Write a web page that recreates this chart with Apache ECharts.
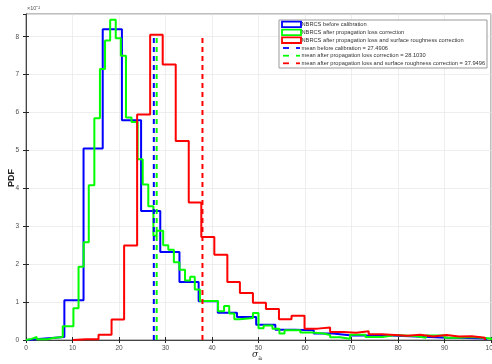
<!DOCTYPE html>
<html><head><meta charset="utf-8">
<script src="https://cdn.jsdelivr.net/npm/echarts@6/dist/echarts.min.js"></script>
<style>html,body{margin:0;padding:0;background:#fff}#c{width:492px;height:364px}</style>
</head><body><div id="c"></div>
<script>
// Blue: NBRCS before calibration (bin edges, heights in 1e-2)
const blueEdges = [0,4.125,8.25,12.375,16.5,20.625,24.75,28.875,33,37.125,41.25,45.375,49.5,53.625,57.75,61.875,66,70.125,74.25,78.375,82.5,86.625,90.75,94.875,99];
const blueHeights = [0.04,0.08,1.05,5.05,8.2,5.8,3.4,2.32,1.53,1.02,0.72,0.61,0.4,0.27,0.26,0.17,0.12,0.12,0.12,0.1,0.08,0.06,0.05,0.04];
// Green: NBRCS after propagation loss correction
const greenEdges = [0,1.2,2.3,4.6,5.8,7.9,10.2,11.3,12.4,13.5,14.7,15.9,17.0,18.1,19.3,20.4,21.5,22.7,24.0,25.1,26.3,27.4,28.1,29.5,30.6,31.8,33.0,34.2,35.3,36.3,37.4,41.3,42.6,43.7,44.8,46.0,48.8,50.0,51.1,53.0,54.5,55.6,59.0,61.5,64.0,65.4,67.5,69.7,73.0,76.6,79.5,84,86,90,93,96,100];
const greenHeights = [0.03,0.08,0.02,0.05,0.08,0.36,0.84,1.93,2.58,4.08,5.85,7.15,7.9,8.45,7.96,7.5,5.87,5.75,4.77,4.1,3.53,2.75,2.88,2.5,2.38,2.05,1.85,1.57,1.67,1.33,1.03,0.76,0.9,0.7,0.55,0.58,0.71,0.31,0.38,0.3,0.17,0.26,0.2,0.17,0.13,0.07,0.03,0.14,0.08,0.13,0.1,0.06,0.12,0.06,0.08,0.04];
// Red: NBRCS after propagation loss and surface roughness correction
const redEdges = [10.1,12.9,15.6,18.4,21.1,23.9,26.7,29.4,32.2,35.0,37.7,40.5,43.3,46.0,48.8,51.6,54.4,57.1,59.9,62.7,65.4,68.2,71.0,73.7,76.5,79.3,82.0,84.8,87.6,90.4,93.1,95.9,98.7];
const redHeights = [0.02,0.02,0.14,0.54,2.49,5.95,8.05,7.27,5.25,3.63,2.72,2.25,1.53,1.24,0.98,0.82,0.55,0.64,0.3,0.33,0.21,0.19,0.23,0.15,0.13,0.11,0.14,0.09,0.13,0.09,0.1,0.06];
// Means
const meanValues = [27.4906, 28.1030, 37.9496];
const meanTop = 8.0;
const legendTexts = [
  'NBRCS before calibration',
  'NBRCS after propagation loss correction',
  'NBRCS after propagation loss and surface roughness correction',
  'mean before calibration = 27.4906',
  'mean after propagation loss correction = 28.1030',
  'mean after propagation loss and surface roughness correction = 37.9496'
];
const colors = ['#0000ff','#00ff00','#ff0000'];

function stairs(edges, h){
  const pts = [[edges[0],0]];
  for (let i=0;i<h.length;i++){ pts.push([edges[i],h[i]]); pts.push([edges[i+1],h[i]]); }
  pts.push([edges[edges.length-1],0]);
  return pts;
}
const chart = echarts.init(document.getElementById('c'));
const axisLabelStyle = {fontSize:6.5,color:'#4d4d4d',fontFamily:'Liberation Sans'};
const series = [];
[[blueEdges,blueHeights],[greenEdges,greenHeights],[redEdges,redHeights]].forEach((d,i)=>{
  series.push({type:'line',data:stairs(d[0],d[1]),symbol:'none',animation:false,
    lineStyle:{color:colors[i],width:2},z:2+i});
});
meanValues.forEach((m,i)=>{
  series.push({type:'line',data:[[m,0],[m,meanTop]],symbol:'none',animation:false,
    lineStyle:{color:colors[i],width:2,type:[5,4]},z:6+i});
});
// legend graphics
const lg = [];
const lx=279, ly=20, lw=208, lh=48;
lg.push({type:'rect',shape:{x:lx,y:ly,width:lw,height:lh},style:{fill:'#fff',stroke:'#999',lineWidth:1},z:100});
const rowY=[24.4,32.4,40.2,48,55.7,63.3];
rowY.forEach((y,i)=>{
  if(i<3){
    lg.push({type:'rect',shape:{x:282,y:y-2.8,width:19,height:5.6},style:{fill:'#fff',stroke:colors[i],lineWidth:1.8},z:101});
  } else {
    const c = colors[i-3];
    lg.push({type:'line',shape:{x1:283,y1:y,x2:289,y2:y},style:{stroke:c,lineWidth:1.8},z:101});
    lg.push({type:'line',shape:{x1:296,y1:y,x2:300,y2:y},style:{stroke:c,lineWidth:1.8},z:101});
  }
  lg.push({type:'text',x:301.5,y:y,style:{text:legendTexts[i],fontSize:5.7,fill:'#333',fontFamily:'Liberation Sans',textVerticalAlign:'middle',textBaseline:'middle'},z:101});
});
lg.push({type:'text',x:27,y:8,style:{text:'×10⁻²',fontSize:5.5,fill:'#555',fontFamily:'Liberation Sans',textVerticalAlign:'middle',textBaseline:'middle'},z:101});
lg.push({type:'text',x:12,y:178,rotation:Math.PI/2,style:{text:'PDF',fontSize:9,fontWeight:'bold',fill:'#262626',fontFamily:'Liberation Sans',textAlign:'center',textVerticalAlign:'middle',textBaseline:'middle'},z:101});
lg.push({type:'text',x:252,y:355,style:{rich:{s:{fontSize:9,fontStyle:'italic',fill:'#262626',fontFamily:'DejaVu Serif'},a:{fontSize:6.5,fill:'#262626',fontFamily:'DejaVu Serif',padding:[6,0,0,0]}},text:'{s|σ}{a|a}',textVerticalAlign:'middle'},z:101});

chart.setOption({
  animation:false,
  grid:{left:26,right:1,top:14,bottom:24,show:true,borderColor:'#262626',borderWidth:0.6,outerBoundsMode:'none',containLabel:false},
  xAxis:[{type:'value',min:0,max:100,interval:10,
    axisLine:{show:true,lineStyle:{color:'#262626',width:0.6}},
    axisTick:{show:true,inside:true,length:3,lineStyle:{color:'#262626'}},
    axisLabel:Object.assign({margin:5},axisLabelStyle),
    splitLine:{show:true,lineStyle:{color:'#e6e6e6',width:0.7}}},
    {type:'value',min:0,max:100,interval:10,position:'top',
    axisLine:{show:true,lineStyle:{color:'#262626',width:0.6}},
    axisTick:{show:true,inside:true,length:3,lineStyle:{color:'#262626'}},
    axisLabel:{show:false},splitLine:{show:false}}],
  yAxis:[{type:'value',min:0,max:8.6,interval:1,
    axisLine:{show:true,lineStyle:{color:'#262626',width:0.6}},
    axisTick:{show:true,inside:true,length:3,lineStyle:{color:'#262626'}},
    axisLabel:Object.assign({margin:7,showMaxLabel:false},axisLabelStyle),
    splitLine:{show:true,lineStyle:{color:'#e6e6e6',width:0.7}}},
    {type:'value',min:0,max:8.6,interval:1,position:'right',
    axisLine:{show:true,lineStyle:{color:'#262626',width:0.6}},
    axisTick:{show:true,inside:true,length:3,lineStyle:{color:'#262626'}},
    axisLabel:{show:false},splitLine:{show:false}}],
  series:series,
  graphic:lg
});
</script></body></html>
